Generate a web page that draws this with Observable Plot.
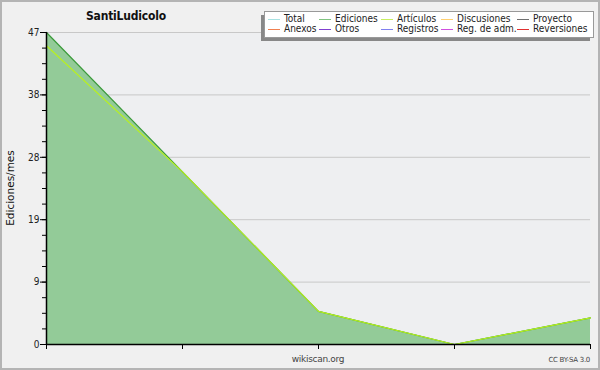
<!DOCTYPE html>
<html><head><meta charset="utf-8">
<script src="https://cdn.jsdelivr.net/npm/d3@7"></script>
<script src="https://cdn.jsdelivr.net/npm/@observablehq/plot@0.6"></script>
<style>
body{margin:0;background:#f0f0f0;font-family:"DejaVu Sans",sans-serif;}
#wrap{position:relative;width:600px;height:370px;overflow:hidden;background:#f0f0f0;}
#wrap svg{position:absolute;left:0;top:0;}
.abs{position:absolute;white-space:nowrap;}
#border{position:absolute;left:0;top:0;width:600px;height:370px;box-sizing:border-box;border:2px solid #b4b4b4;pointer-events:none;}
</style></head>
<body><div id="wrap"></div>
<script>
const months = [0, 1, 2, 3, 4];
const ediciones = [47, 26, 5, 0, 4];
const articulos = [45, 26, 5, 0, 4];
const yMax = 47;
const yTickLabels = ["0", "9", "19", "28", "38", "47"];
const legendNames = ["Total", "Ediciones", "Artículos", "Discusiones", "Proyecto",
                     "Anexos", "Otros", "Registros", "Reg. de adm.", "Reversiones"];
const legendColors = ["#a8e2e2", "#80c480", "#c8ee60", "#ffd070", "#707070",
                      "#f08050", "#8040d0", "#8080f0", "#d050e0", "#e03030"];

const data = months.map((m, i) => ({m, ed: ediciones[i], ar: articulos[i]}));
const majorTicks = yTickLabels.map((_, i) => i * yMax / (yTickLabels.length - 1));
const minorTicks = d3.range(0, 21).map(i => i * yMax / 20);

const W = 600, H = 370;
const plot = Plot.plot({
  width: W, height: H,
  marginLeft: 46, marginRight: 10, marginTop: 32, marginBottom: 26,
  style: {background: "transparent", fontFamily: "DejaVu Sans Condensed", fontSize: "10px", color: "#222"},
  x: {domain: [0, 4]},
  y: {domain: [0, yMax]},
  marks: [
    Plot.frame({fill: "#eeeff1", stroke: null}),
    Plot.gridY(majorTicks, {stroke: "#c8c8c8", strokeOpacity: 1}),
    Plot.areaY(data, {x: "m", y: "ed", fill: "#93cb98", curve: "linear"}),
    Plot.lineY(data, {x: "m", y: "ed", stroke: "#3a9a3a", strokeWidth: 1.2}),
    Plot.lineY(data, {x: "m", y: "ar", stroke: "#b8f020", strokeWidth: 1.2}),
    Plot.axisY(minorTicks, {tickSize: 4, text: null, stroke: "#000"}),
    Plot.axisY(majorTicks, {tickSize: 6, tickPadding: 1, stroke: "#000", fill: "#222",
      tickFormat: (d, i) => yTickLabels[i], label: null, fontSize: 10}),
    Plot.axisX(months, {tickSize: 5, text: null, stroke: "#000", label: null}),
    Plot.ruleY([0], {stroke: "#000", strokeWidth: 1.5}),
    Plot.ruleX([0], {stroke: "#000", strokeWidth: 1.5})
  ]
});
const wrap = document.getElementById("wrap");
wrap.appendChild(plot);

function add(html, css) {
  const d = document.createElement("div");
  d.className = "abs"; d.innerHTML = html; Object.assign(d.style, css);
  wrap.appendChild(d); return d;
}
add("SantiLudicolo", {left: "86px", top: "9px", fontWeight: "bold", fontSize: "12px", color: "#111",
  fontFamily: "DejaVu Sans Condensed", letterSpacing: "-0.2px"});
add("Ediciones/mes", {left: "10px", top: "188px", fontSize: "10.5px", color: "#111",
  transform: "translate(-50%,-50%) rotate(-90deg)"});
add("wikiscan.org", {left: "318px", top: "354px", fontSize: "9px", color: "#444", transform: "translateX(-50%)", letterSpacing: "-0.3px"});
add("CC BY-SA 3.0", {left: "590px", top: "356px", fontSize: "7px", color: "#444", transform: "translateX(-100%)", letterSpacing: "-0.3px"});

// legend
add("", {left: "261px", top: "15px", width: "329px", height: "26px", background: "#888"});
add("", {left: "264px", top: "11px", width: "328px", height: "25px", background: "#fff", border: "1px solid #999"});
const colLine = [268, 319, 381, 441, 517];
const colText = [284, 335, 397, 457, 533];
legendNames.forEach((name, i) => {
  const r = Math.floor(i / 5), c = i % 5;
  const y = 19 + r * 10;
  add("", {left: colLine[c] + "px", top: y + "px", width: "12px", height: "1px", background: legendColors[i]});
  add(name, {left: colText[c] + "px", top: (y - 6) + "px", fontSize: "10px", color: "#222", lineHeight: "12px",
    fontFamily: "DejaVu Sans Condensed"});
});
add("", {}).id = "border";
</script></body></html>
